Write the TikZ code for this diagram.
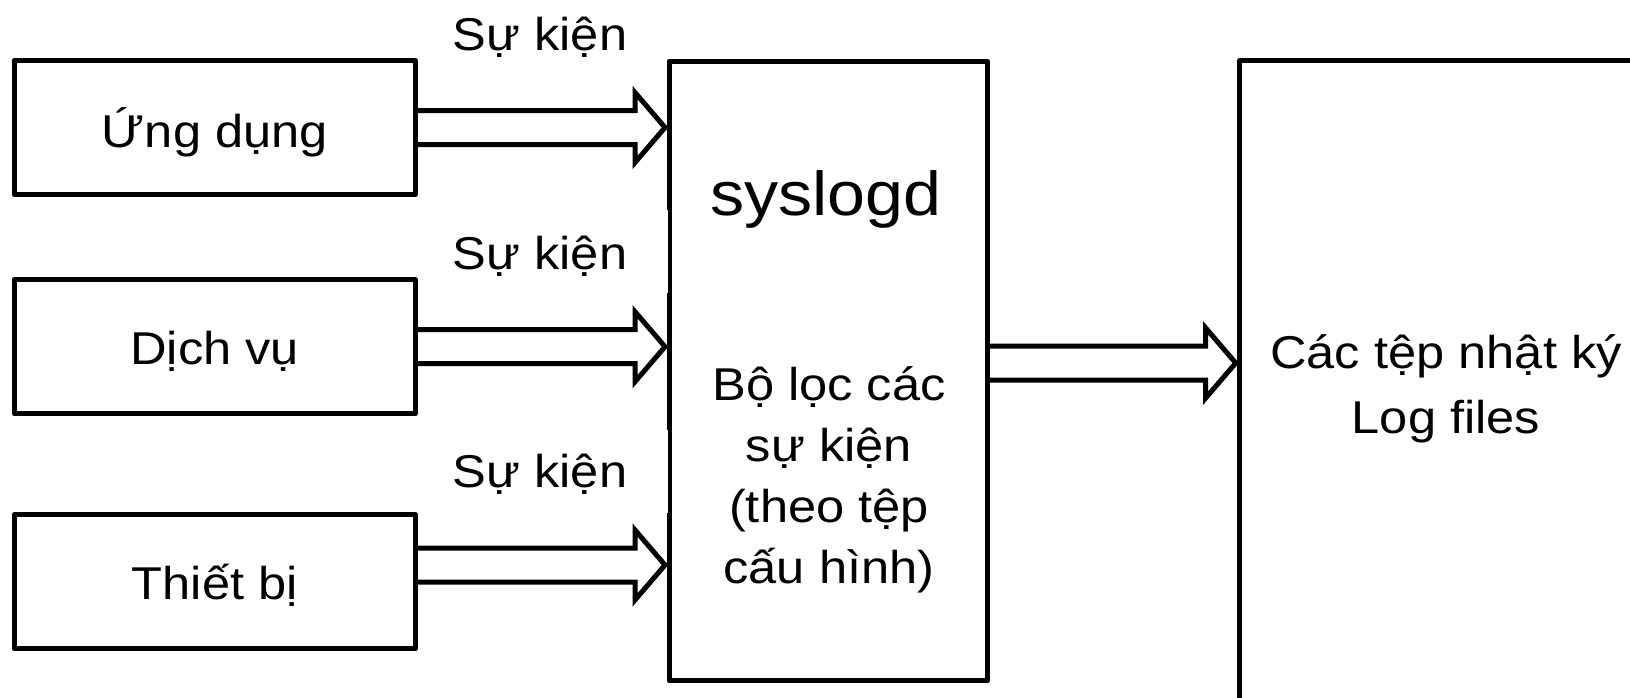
\documentclass[tikz,border=0pt]{standalone}
\usepackage{fontspec}
\setmainfont{Liberation Sans}[FakeStretch=1.1]
\usetikzlibrary{calc}
\newcommand\blkarrow[2]{%
  \draw[barrow] ($(#1)+(2.5,-17)$) -- ($(#2)+(-30,-17)$) -- ($(#2)+(-30,-35)$) -- (#2)
    -- ($(#2)+(-30,35)$) -- ($(#2)+(-30,17)$) -- ($(#1)+(2.5,17)$);}
\begin{document}
\begin{tikzpicture}[x=1pt,y=-1pt,
  box/.style={draw, line width=5pt, line join=round, inner sep=0pt, outer sep=0pt,
    minimum width=401.5pt, minimum height=134pt},
  bigbox/.style={draw, line width=5pt, line join=round, inner sep=0pt, outer sep=0pt},
  barrow/.style={draw, line width=5pt, line join=miter, fill=white},
  txt/.style={anchor=base, inner sep=0pt, align=center,
    font=\fontsize{46}{61}\selectfont},
  ]
\useasboundingbox (0,0) rectangle (1630,697);
\clip (0,0) rectangle (1630,697);
% boxes
\node[box] (app) at (214.75,127.5) {};
\node[box] (srv) at (214.75,346.7) {};
\node[box] (dev) at (214.75,581.7) {};
\node[bigbox, minimum width=318.5pt, minimum height=619.5pt] (sys) at (828.25,371) {};
\node[bigbox, anchor=north west, minimum width=500pt, minimum height=700pt] (logs) at (1239.7,60.5) {};
% gaps on the left edge of syslogd box
\fill[white] (665,210) rectangle (668.3,293);
\fill[white] (665,430) rectangle (668.3,513);
% texts
\node[txt] (tapp) at (214.75,147) {Ứng dụng};
\node[txt] (tsrv) at (214.75,364) {Dịch vụ};
\node[txt] (tdev) at (214.75,599) {Thiết bị};
\node[txt] (ev1) at (540,50) {Sự kiện};
\node[txt] (ev2) at (540,269) {Sự kiện};
\node[txt] (ev3) at (540,487) {Sự kiện};
\node[txt, font=\fontsize{62}{70}\selectfont] (tsys) at (826,215) {syslogd};
\node[txt] (tfilter) at (829,583) {Bộ lọc các\\sự kiện\\(theo tệp\\cấu hình)};
\node[txt, font=\fontsize{46}{65}\selectfont] (tlogs) at (1446,433) {Các tệp nhật ký\\Log files};
% arrows
\coordinate (a1s) at (app.east);
\coordinate (a1t) at ($(app.east -| sys.west)+(-4,0)$);
\coordinate (a2s) at (srv.east);
\coordinate (a2t) at ($(srv.east -| sys.west)+(-4,0)$);
\coordinate (a3s) at ($(dev.east)+(0,-16.7)$);
\coordinate (a3t) at ($(a3s -| sys.west)+(-4,0)$);
\coordinate (a4s) at ($(sys.east)+(0,-8)$);
\coordinate (a4t) at ($(a4s -| logs.west)+(-4,0)$);
\blkarrow{a1s}{a1t}
\blkarrow{a2s}{a2t}
\blkarrow{a3s}{a3t}
\blkarrow{a4s}{a4t}
\end{tikzpicture}
\end{document}
